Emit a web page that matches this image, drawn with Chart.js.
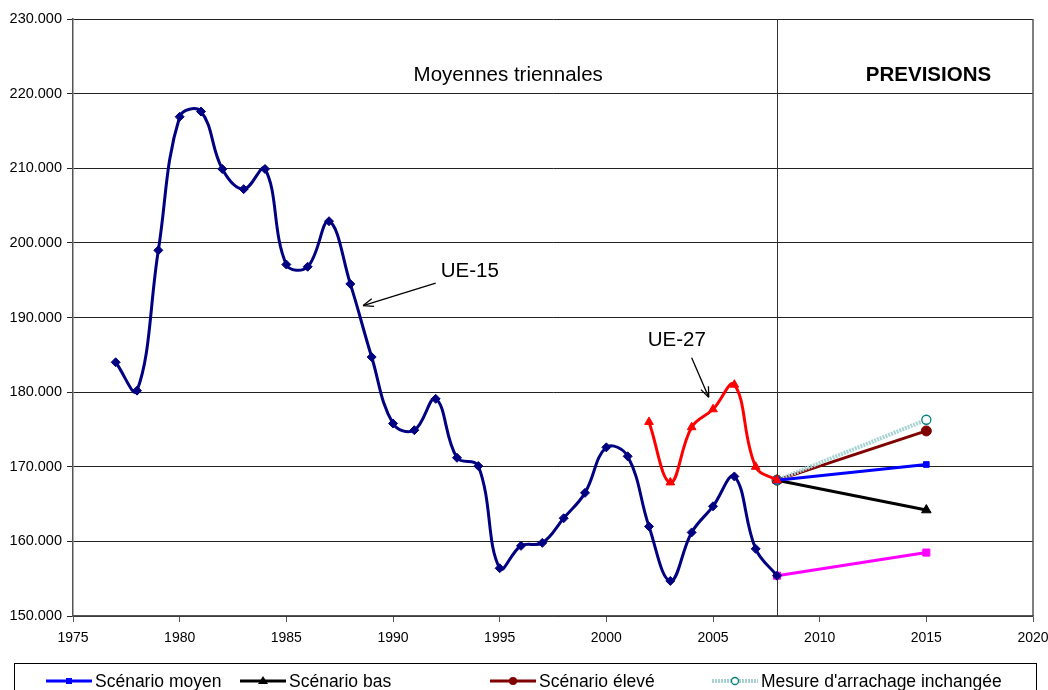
<!DOCTYPE html>
<html>
<head>
<meta charset="utf-8">
<script src="https://cdn.jsdelivr.net/npm/chart.js@4.4.1/dist/chart.umd.min.js"></script>
<style>
  html,body{margin:0;padding:0;background:#fff}
  #wrap{width:1048px;height:690px;position:relative}
</style>
</head>
<body>
<div id="wrap"><canvas id="c"></canvas></div>
<script>
/* Moyennes triennales — UE-15 / UE-27 + prévisions 2015 */

const UE15_YEARS = [1977,1978,1979,1980,1981,1982,1983,1984,1985,1986,1987,1988,1989,1990,1991,1992,
                    1993,1994,1995,1996,1997,1998,1999,2000,2001,2002,2003,2004,2005,2006,2007,2008];
const UE15_VALUES = [184.0,180.2,199.0,216.9,217.6,209.9,207.2,209.9,197.1,196.8,202.9,194.5,184.7,175.8,174.9,179.1,
                     171.2,170.1,156.4,159.4,159.8,163.1,166.5,172.6,171.4,162.0,154.7,161.2,164.7,168.7,159.0,155.4];

const UE27_YEARS = [2002,2003,2004,2005,2006,2007,2008];
const UE27_VALUES = [176.0,167.9,175.3,177.7,181.0,170.0,168.2];

const PROJ_YEARS = [2008,2015];
const MOYEN   = [168.2,170.3];
const BAS     = [168.2,164.2];
const ELEVE   = [168.2,174.8];
const ARRACH  = [168.2,176.3];
const UE15_PROJ = [155.4,158.5];

const X_MIN = 1975, X_MAX = 2020;
const Y_MIN = 150, Y_MAX = 230;  // milliers

const FONT = "'Liberation Sans', Arial, sans-serif";

function pts(xs, ys){ return xs.map((x,i)=>({x, y:ys[i]*1000})); }

function fmtK(v){ return (v/1000) + '.000'; }

function arrow(ctx, x1, y1, x2, y2){
  const a = Math.atan2(y2-y1, x2-x1), L = 11, W = 0.38;
  ctx.beginPath(); ctx.moveTo(x1,y1); ctx.lineTo(x2,y2); ctx.stroke();
  ctx.beginPath();
  ctx.moveTo(x2,y2);
  ctx.lineTo(x2 - L*Math.cos(a-W), y2 - L*Math.sin(a-W));
  ctx.moveTo(x2,y2);
  ctx.lineTo(x2 - L*Math.cos(a+W), y2 - L*Math.sin(a+W));
  ctx.stroke();
}

/* ── textes, flèches, ligne 2008, légende ── */
const decor = {
  id:'decor',
  beforeDatasetsDraw(chart){
    const { ctx, chartArea:a, scales:{x} } = chart;
    ctx.save();
    // bordure droite
    ctx.strokeStyle = '#555'; ctx.lineWidth = 1.5;
    ctx.beginPath(); ctx.moveTo(a.right, a.top); ctx.lineTo(a.right, a.bottom); ctx.stroke();
    // séparation historique / prévisions
    const x08 = Math.round(x.getPixelForValue(2008)) + 0.5;
    ctx.strokeStyle = '#333'; ctx.lineWidth = 1;
    ctx.beginPath(); ctx.moveTo(x08, a.top); ctx.lineTo(x08, a.bottom); ctx.stroke();
    ctx.restore();
  },
  afterDraw(chart){
    const { ctx, scales:{x,y} } = chart;
    const px = v => x.getPixelForValue(v), py = v => y.getPixelForValue(v*1000);
    ctx.save();
    ctx.fillStyle = '#000'; ctx.textAlign = 'center'; ctx.textBaseline = 'middle';
    ctx.font = `20.5px ${FONT}`;
    ctx.fillText('Moyennes triennales', px(1995.4), py(222.4));
    ctx.fillText('UE-15', px(1993.6), py(196.2));
    ctx.fillText('UE-27', px(2003.3), py(186.9));
    ctx.font = `bold 20.5px ${FONT}`;
    ctx.fillText('PREVISIONS', px(2015.1), py(222.4));
    ctx.strokeStyle = '#000'; ctx.lineWidth = 1.3;
    arrow(ctx, px(1992.0), py(194.6), px(1988.6), py(191.6));
    arrow(ctx, px(2004.0), py(184.6), px(2004.8), py(179.3));

    // légende (cadre coupé par le bas de l'image)
    ctx.strokeStyle = '#000'; ctx.lineWidth = 1;
    ctx.strokeRect(14.5, 663.5, 1022, 60);
    const items = [
      { x:46,  label:'Scénario moyen', color:'#0000FF', mk:'rect' },
      { x:240, label:'Scénario bas', color:'#000000', mk:'tri' },
      { x:490, label:'Scénario élevé', color:'#800000', mk:'circle' },
      { x:712, label:"Mesure d'arrachage inchangée", color:'#A9D3D3', mk:'open' }
    ];
    const ly = 681;
    ctx.font = `17.5px ${FONT}`; ctx.textAlign = 'left';
    items.forEach(it=>{
      ctx.strokeStyle = it.color;
      ctx.lineWidth = it.mk==='open' ? 4 : 3;
      if(it.mk==='open') ctx.setLineDash([2,1]);
      ctx.beginPath(); ctx.moveTo(it.x, ly); ctx.lineTo(it.x+46, ly); ctx.stroke();
      ctx.setLineDash([]);
      const cx = it.x+23;
      ctx.fillStyle = it.color;
      if(it.mk==='rect') ctx.fillRect(cx-3, ly-3, 6, 6);
      else if(it.mk==='tri'){ ctx.beginPath(); ctx.moveTo(cx, ly-5); ctx.lineTo(cx+5, ly+3); ctx.lineTo(cx-5, ly+3); ctx.closePath(); ctx.fill(); }
      else if(it.mk==='circle'){ ctx.beginPath(); ctx.arc(cx, ly, 4, 0, Math.PI*2); ctx.fill(); }
      else { ctx.fillStyle='#fff'; ctx.strokeStyle='#008080'; ctx.lineWidth=1.3; ctx.beginPath(); ctx.arc(cx, ly, 3.5, 0, Math.PI*2); ctx.fill(); ctx.stroke(); }
      ctx.fillStyle = '#000';
      ctx.fillText(it.label, it.x+49, ly+1);
    });
    ctx.restore();
  }
};

const lineDs = (label, data, color, extra) => Object.assign({
  label, data, borderColor:color, backgroundColor:color, borderWidth:3,
  pointRadius:4, pointBorderWidth:1, pointBorderColor:color, fill:false, tension:0
}, extra);

new Chart(document.getElementById('c'), {
  type:'line',
  data:{
    datasets:[
      lineDs('UE-15', pts(UE15_YEARS, UE15_VALUES), '#000080', { tension:0.4, pointStyle:'rectRot', pointRadius:4.5 }),
      lineDs('UE-27', pts(UE27_YEARS, UE27_VALUES), '#FF0000', { tension:0.4, pointStyle:'triangle', pointRadius:5 }),
      lineDs('UE-15 prévision', pts(PROJ_YEARS, UE15_PROJ), '#FF00FF', { pointStyle:'rect', pointRadius:5 }),
      lineDs('Scénario moyen', pts(PROJ_YEARS, MOYEN), '#0000FF', { pointStyle:'rect', pointRadius:4 }),
      lineDs('Scénario bas', pts(PROJ_YEARS, BAS), '#000000', { pointStyle:'triangle', pointRadius:5.5 }),
      lineDs("Mesure d'arrachage inchangée", pts(PROJ_YEARS, ARRACH), '#A9D3D3',
        { borderWidth:4, borderDash:[2,1], pointStyle:'circle', pointRadius:4.5, pointBackgroundColor:'#fff', pointBorderColor:'#008080', pointBorderWidth:1.3 }),
      lineDs('Scénario élevé', pts(PROJ_YEARS, ELEVE), '#800000', { pointStyle:'circle', pointRadius:5 })
    ]
  },
  plugins:[decor],
  options:{
    responsive:true, maintainAspectRatio:false, animation:false,
    layout:{ padding:{ top:19, right:15, left:0, bottom:0 } },
    plugins:{ legend:{display:false}, tooltip:{enabled:false} },
    scales:{
      x:{
        type:'linear', min:X_MIN, max:X_MAX,
        afterFit(s){ s.height = 74; s.paddingLeft = 0; s.paddingRight = 0; },
        ticks:{ stepSize:5, color:'#000', font:{family:FONT, size:14}, padding:8, maxRotation:0,
                callback:v=>String(v) },
        grid:{ drawOnChartArea:false, drawTicks:true, tickLength:6, color:'#555' },
        border:{ color:'#555', width:1.5 }
      },
      y:{
        min:Y_MIN*1000, max:Y_MAX*1000,
        afterFit(s){ s.width = 73; s.paddingTop = 0; s.paddingBottom = 0; },
        ticks:{ stepSize:10000, color:'#000', font:{family:FONT, size:14.5}, padding:5, callback:fmtK },
        grid:{ color:'#222', lineWidth:1, tickLength:6, drawTicks:true },
        border:{ color:'#555', width:1.5 }
      }
    }
  }
});
</script>
</body>
</html>
